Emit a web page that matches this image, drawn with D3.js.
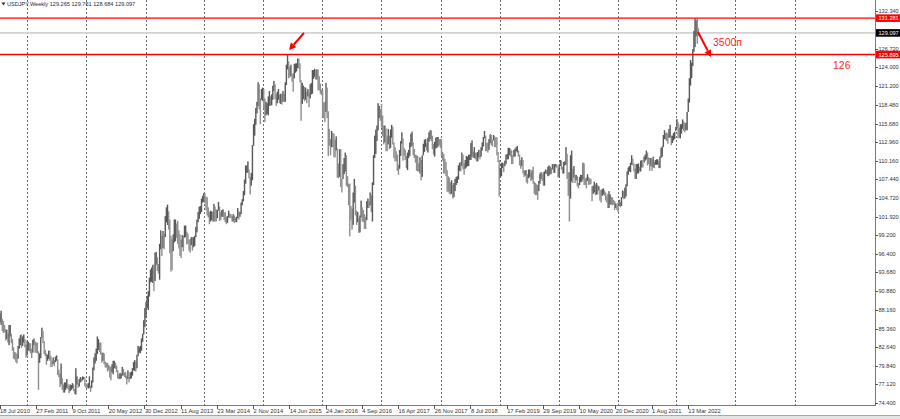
<!DOCTYPE html>
<html><head><meta charset="utf-8">
<script src="https://cdn.jsdelivr.net/npm/d3@7"></script>
<style>
html,body{margin:0;padding:0;background:#fff;overflow:hidden;}
svg{display:block;}
text{font-family:"Liberation Sans",Arial,sans-serif;}
</style></head><body>
<svg id="c" width="900" height="419"></svg>
<script>
// ---------- DATA ----------
const symbolTitle = "USDJPY,Weekly";
const lastBarOHLC = [129.265, 129.761, 128.684, 129.097];
const firstWeek = "2010-07-18";

// weekly lows, one line per calendar year of the bar start date
const weekLows = [
86.3,85.9,85.0,84.7,84.8,83.6,83.8,83.3,82.9,84.2,83.2,82.1,80.9,80.8,80.4,80.2,80.9,82.4,82.9,82.5,82.8,83.3,82.6,81.1,
81.4,82.1,82.0,81.7,81.0,81.8,82.9,81.8,81.8,81.7,76.3,80.3,81.0,84.0,83.2,81.6,81.3,80.0,80.6,80.9,80.6,79.7,79.7,80.1,79.8,80.4,80.6,78.5,78.2,76.7,77.1,76.3,75.9,75.9,76.3,76.6,76.4,75.8,76.1,76.3,76.5,76.1,75.7,75.6,77.1,76.6,76.8,77.4,77.5,77.7,77.9,76.8,
76.6,76.6,76.5,76.6,76.0,76.6,77.4,79.2,80.2,80.6,81.6,82.2,81.9,81.5,80.3,80.6,80.1,79.6,79.6,79.0,79.2,78.1,77.7,78.9,78.6,79.5,79.4,78.9,78.0,77.9,77.9,78.0,78.4,78.4,78.2,78.0,77.1,77.9,77.4,77.9,78.0,78.4,79.2,79.1,79.0,79.5,81.3,81.8,81.7,82.1,83.4,84.5,
85.6,87.0,88.4,88.1,90.1,92.2,92.3,92.1,90.9,92.4,94.8,93.9,93.5,92.6,97.1,96.1,97.3,97.1,98.9,101.1,100.7,100.0,96.5,93.8,94.0,96.8,98.1,98.3,98.8,97.9,97.2,96.1,95.8,97.4,96.8,98.8,98.9,97.8,97.9,96.9,96.6,97.7,96.9,97.4,97.6,98.9,99.6,101.1,101.6,102.3,102.6,104.0,104.1,
103.9,102.9,102.1,101.8,100.8,101.2,101.4,101.2,101.2,101.2,101.2,101.7,102.8,101.3,101.4,101.9,101.9,101.4,101.1,100.8,101.0,101.8,101.7,101.7,101.2,101.2,101.0,101.1,101.1,101.7,101.5,101.9,102.3,103.6,104.2,105.1,106.8,108.4,108.4,107.6,105.2,106.5,107.3,112.4,113.9,115.5,117.2,118.3,117.8,115.6,119.2,119.0,
117.9,115.9,116.9,117.1,116.9,118.3,118.3,118.4,119.2,120.5,119.3,118.3,118.7,119.2,118.7,118.6,118.5,118.9,118.9,118.9,121.4,123.7,122.4,122.5,122.7,121.9,120.4,122.4,123.2,123.4,123.9,123.8,121.8,116.1,118.6,119.3,119.0,119.2,118.7,119.7,118.1,119.4,120.0,120.1,122.3,122.6,122.2,122.2,120.6,120.6,120.1,119.9,
116.7,116.5,115.9,117.4,116.5,110.9,112.4,111.0,112.2,112.2,110.7,110.7,111.7,107.7,107.6,107.8,106.3,105.5,107.5,108.2,108.6,106.5,106.3,103.6,99.0,101.4,100.0,100.7,104.0,102.1,100.7,101.1,99.5,99.6,101.8,101.2,101.1,100.1,100.1,101.4,103.2,103.2,103.6,102.6,101.2,106.6,110.6,111.2,113.1,114.7,116.5,116.1,
115.1,113.8,112.6,112.9,111.6,111.6,112.6,111.9,112.1,113.6,112.6,110.6,110.1,110.1,108.7,108.1,109.0,110.9,112.7,110.2,110.9,110.3,109.1,108.8,110.6,110.9,112.2,112.4,111.0,110.6,109.9,108.7,108.6,108.6,108.3,107.3,107.8,111.0,111.5,112.2,111.7,111.4,113.0,113.4,113.1,111.9,111.1,110.8,112.0,112.1,112.3,112.5,
112.1,110.9,110.2,108.3,108.3,107.9,105.6,105.6,105.3,105.2,105.3,104.6,104.8,105.7,106.6,106.9,107.4,108.7,108.6,109.4,108.9,108.1,109.0,109.2,109.4,109.4,110.3,110.3,110.8,110.6,110.6,110.4,110.1,110.1,110.7,110.4,110.8,111.7,112.3,113.5,111.6,111.6,111.4,111.8,112.8,112.5,112.3,113.2,112.2,112.2,111.0,110.0,104.9,
107.8,107.9,109.1,108.5,109.4,109.7,110.4,110.4,111.0,110.8,109.7,109.7,110.8,110.8,111.6,111.4,110.8,109.5,109.0,109.4,108.3,107.8,108.0,107.0,106.8,107.6,107.8,107.2,107.4,106.8,105.3,105.1,105.1,104.4,105.7,106.8,107.5,107.2,106.5,106.5,108.3,108.2,107.9,108.0,108.2,108.2,108.9,108.4,108.4,109.3,109.1,107.7,
107.8,109.4,108.9,108.3,108.3,109.5,109.6,107.5,105.0,101.2,104.6,107.1,106.9,107.7,106.9,107.3,106.4,106.1,106.6,107.0,107.1,107.4,106.6,106.6,106.1,107.2,106.6,106.7,106.7,104.2,105.3,105.5,105.1,105.2,105.2,105.8,104.3,104.0,105.0,105.2,105.0,104.3,104.0,103.2,103.2,103.7,103.7,103.6,103.7,102.9,103.2,102.9,
102.6,103.5,103.3,103.5,104.7,104.5,104.6,104.9,106.4,108.1,108.6,108.5,109.6,109.5,108.6,107.5,107.5,108.3,108.3,108.6,108.6,109.2,109.2,109.9,110.2,110.4,109.5,109.7,108.7,109.4,108.7,109.2,109.1,109.6,109.6,109.6,109.1,109.1,110.6,110.8,112.2,113.4,113.3,113.1,112.7,113.6,113.6,112.5,112.8,113.2,113.4,114.6,
115.0,113.5,113.6,113.5,114.2,114.9,114.6,114.4,114.7,114.7,117.4,118.8,121.3,122.4,124.2,126.3,127.0,128.6,127.5,128.684
];

// weekly highs, same order
const weekHighs = [
87.6,88.0,86.8,86.5,85.9,85.3,85.2,84.6,85.9,85.9,84.6,83.8,82.6,81.9,81.8,81.6,82.8,83.9,84.4,84.5,84.2,84.5,83.8,83.0,
83.6,83.4,83.2,83.2,82.4,83.7,83.9,83.5,83.3,83.3,82.0,81.7,84.1,85.5,85.0,83.5,82.2,81.7,81.5,82.1,82.1,81.3,80.6,81.1,80.7,81.2,81.4,80.8,79.3,78.7,80.2,78.0,77.1,77.4,77.4,77.9,77.2,76.9,77.1,77.0,77.3,77.1,76.4,79.5,78.3,77.3,77.9,78.2,78.0,78.3,78.2,78.1,
77.3,77.1,77.3,78.3,76.9,77.7,79.6,81.1,81.7,82.4,84.2,83.8,83.3,83.3,81.8,81.8,81.7,80.5,80.3,80.3,80.0,79.8,79.7,80.1,80.6,80.6,80.3,79.9,79.2,78.6,78.8,78.7,79.7,79.4,78.9,78.9,78.4,79.2,78.2,78.9,79.0,79.5,80.4,80.7,80.5,81.5,82.8,82.6,82.8,83.9,84.6,86.6,
88.4,89.3,90.2,90.9,92.9,94.1,94.4,94.8,94.8,96.6,96.7,95.9,94.9,97.9,99.9,99.1,99.8,99.4,102.0,103.3,103.7,102.7,101.5,99.1,98.6,99.3,101.5,101.5,100.9,101.3,99.9,99.3,98.5,99.2,99.1,100.6,100.6,99.7,99.4,98.5,98.6,98.9,98.9,98.9,99.1,100.4,101.5,102.6,103.4,103.5,104.6,105.0,105.4,
105.4,104.9,104.8,103.3,102.6,102.8,102.7,102.6,103.8,103.4,103.0,102.9,104.1,103.4,102.6,102.9,103.0,102.5,102.6,101.9,102.0,102.8,102.4,102.3,102.0,102.3,102.1,101.8,101.9,103.2,102.7,102.6,104.0,104.5,105.7,107.4,109.5,109.5,110.1,108.9,107.8,108.4,112.5,115.6,116.4,118.0,118.9,121.8,121.5,119.4,120.8,121.0,
120.8,119.4,118.9,118.7,119.7,120.5,119.7,120.0,121.3,122.0,121.5,120.1,120.4,120.8,120.0,120.1,120.1,120.5,120.1,121.8,124.4,125.9,124.9,124.1,124.4,123.1,123.1,124.5,124.6,124.6,125.3,125.3,124.6,122.1,121.7,121.3,121.1,121.0,120.4,120.8,120.3,121.5,121.7,123.6,123.6,123.8,123.6,123.7,123.7,122.7,121.6,120.7,
120.7,118.8,118.9,121.7,121.0,117.5,114.9,113.4,114.6,114.3,114.2,113.3,113.8,112.0,109.8,111.9,111.9,107.5,109.7,110.6,111.4,111.0,107.9,106.8,106.8,103.5,103.1,105.5,107.5,106.5,102.8,102.6,101.7,102.1,104.3,103.3,102.9,102.3,101.9,104.2,104.6,104.2,105.5,105.1,107.0,111.0,113.9,114.8,115.4,118.7,118.3,117.8,
118.6,116.9,115.4,115.4,115.0,113.9,114.9,113.9,114.8,115.5,115.2,112.9,112.2,111.6,111.1,109.6,111.8,113.1,114.4,113.5,112.1,111.8,110.9,111.4,111.8,112.9,114.2,114.5,112.9,111.9,111.1,111.0,110.9,109.8,110.7,110.3,111.0,112.7,113.3,113.4,112.8,113.6,114.4,114.7,114.7,113.9,112.7,113.0,113.6,113.7,113.7,113.4,
113.4,113.4,111.5,111.2,110.5,110.0,108.8,107.9,107.7,107.0,107.3,106.6,106.9,107.5,107.8,107.9,109.5,109.9,110.0,111.4,111.1,109.8,110.3,110.9,110.8,111.1,111.1,112.8,113.2,111.5,112.2,111.4,111.4,111.5,111.8,111.8,112.2,112.9,113.7,114.6,113.9,112.8,112.9,113.4,114.1,114.0,113.3,114.0,113.8,113.6,113.7,111.5,110.3,
109.1,109.9,109.9,109.8,110.2,111.1,111.2,112.1,112.1,111.9,111.7,111.0,111.8,112.0,112.2,112.4,111.7,111.1,110.3,110.7,110.3,108.7,108.8,108.8,108.2,108.9,108.9,108.4,108.8,109.3,107.1,106.9,106.7,106.6,107.2,108.3,108.5,108.2,108.5,108.6,108.9,108.8,109.3,109.5,109.3,109.1,109.7,109.7,109.7,109.7,109.6,109.1,
109.6,110.3,110.2,109.3,110.0,110.1,112.2,111.2,108.5,108.5,111.0,111.7,109.0,109.4,108.1,108.1,107.9,106.9,107.8,108.1,108.1,109.9,109.8,107.6,107.7,108.2,107.8,107.6,107.5,106.4,106.5,107.1,106.7,106.9,106.6,106.4,105.9,105.8,106.0,106.1,105.8,105.5,105.0,105.3,105.7,105.2,104.8,104.8,104.4,104.2,103.9,103.7,
104.0,104.4,104.1,104.8,105.8,105.7,106.2,106.7,108.6,109.2,109.4,109.9,111.0,110.5,109.8,109.0,109.7,109.7,109.8,109.3,110.2,110.3,109.8,110.8,111.1,111.7,111.4,110.7,110.6,110.6,110.4,110.8,110.0,110.3,110.4,110.4,110.1,110.8,112.1,112.3,114.0,114.7,114.3,114.4,114.2,114.9,115.5,113.9,113.9,114.3,114.5,115.2,
116.35,115.9,115.1,115.6,115.6,116.3,116.0,115.8,115.8,117.4,119.4,122.4,125.1,124.7,126.7,129.4,131.25,131.0,131.28,129.761
];

const priceTicks = [132.340,126.720,124.000,121.200,118.480,115.680,112.960,110.160,107.440,104.720,101.920,99.200,96.400,93.680,90.880,88.160,85.360,82.640,79.840,77.120,74.400];
const dateLabels = ["18 Jul 2010","27 Feb 2011","9 Oct 2011","20 May 2012","30 Dec 2012","11 Aug 2013","23 Mar 2014","2 Nov 2014","14 Jun 2015","24 Jan 2016","4 Sep 2016","16 Apr 2017","26 Nov 2017","8 Jul 2018","17 Feb 2019","29 Sep 2019","10 May 2020","20 Dec 2020","1 Aug 2021","13 Mar 2022"];
const labelEveryBars = 32;
const levelLines = [131.281, 125.895];
const currentPrice = 129.097;
const noteLevel = "126";
const notePips = "3500п";

// ---------- LAYOUT ----------
const plotRight = 875, plotBottom = 405;
const barStep = 1.132;
const nBars = weekLows.length;
const svg = d3.select("#c");

const x = d3.scaleLinear().domain([0, nBars - 1]).range([-0.5, -0.5 + (nBars - 1) * barStep]);
const y = d3.scaleLinear().domain([74.4, 132.34]).range([402.7, 11]);

svg.append("rect").attr("width", 900).attr("height", 419).attr("fill", "#fff");

svg.append("defs").append("clipPath").attr("id", "pc")
  .append("rect").attr("x", 0).attr("y", 0).attr("width", plotRight).attr("height", plotBottom);

const plot = svg.append("g").attr("clip-path", "url(#pc)");

// yearly period separators (first bar of each calendar year)
const start = d3.timeParse("%Y-%m-%d")(firstWeek);
const seps = [];
for (let i = 1; i < 720; i++) {
  const d = d3.timeDay.offset(start, 7 * i), p = d3.timeDay.offset(start, 7 * (i - 1));
  if (d.getFullYear() !== p.getFullYear()) seps.push(i);
}
plot.selectAll("line.sep").data(seps.filter(i => x(i) < plotRight)).join("line")
  .attr("class", "sep")
  .attr("x1", i => Math.round(x(i)) + 0.5).attr("x2", i => Math.round(x(i)) + 0.5)
  .attr("y1", 0).attr("y2", plotBottom)
  .attr("stroke", "#6a6a6a").attr("stroke-width", 1).attr("stroke-dasharray", "2,2");

// current price line
plot.append("line").attr("x1", 0).attr("x2", plotRight)
  .attr("y1", y(currentPrice)).attr("y2", y(currentPrice))
  .attr("stroke", "#d2d2d2").attr("stroke-width", 1.6);

// bars
const bars = weekLows.map((l, i) => ({ i, l, h: weekHighs[i] }));
plot.selectAll("rect.bar").data(bars).join("rect")
  .attr("class", "bar")
  .attr("x", d => x(d.i) - 0.2)
  .attr("width", 1.4)
  .attr("y", d => y(d.h))
  .attr("height", d => Math.max(1, y(d.l) - y(d.h)))
  .attr("fill", d => {
    if (d.i === nBars - 1) return lastBarOHLC[3] >= lastBarOHLC[0] ? "#585858" : "#8e8e8e";
    if (d.i === 0) return "#585858";
    const m = (d.l + d.h) / 2, pm = (bars[d.i - 1].l + bars[d.i - 1].h) / 2;
    return m >= pm ? "#585858" : "#8e8e8e";
  });

// red level lines
plot.selectAll("line.lvl").data(levelLines).join("line")
  .attr("class", "lvl")
  .attr("x1", 0).attr("x2", plotRight)
  .attr("y1", d => y(d)).attr("y2", d => y(d))
  .attr("stroke", "#ff0000").attr("stroke-width", 1.4);

// arrows
function arrow(g, x1, y1, x2, y2) {
  const ang = Math.atan2(y2 - y1, x2 - x1), L = 7, Wd = 3.6;
  const bx = x2 - L * Math.cos(ang), by = y2 - L * Math.sin(ang);
  g.append("line").attr("x1", x1).attr("y1", y1).attr("x2", bx).attr("y2", by)
    .attr("stroke", "#ff0000").attr("stroke-width", 2);
  g.append("path")
    .attr("d", `M${x2},${y2}L${bx + Wd * Math.sin(ang)},${by - Wd * Math.cos(ang)}L${bx - Wd * Math.sin(ang)},${by + Wd * Math.cos(ang)}Z`)
    .attr("fill", "#ff0000");
}
arrow(svg, 304, 33, 289, 50);
arrow(svg, 698, 32, 711, 57);

svg.append("text").attr("x", 713).attr("y", 45.5).attr("font-size", 10.5).attr("fill", "#ff2a2a").text(notePips);
svg.append("text").attr("x", 833).attr("y", 68.5).attr("font-size", 10.5).attr("fill", "#ff2a2a").text(noteLevel);

// axes frame
svg.append("line").attr("x1", plotRight + 0.5).attr("x2", plotRight + 0.5).attr("y1", 0).attr("y2", plotBottom + 1)
  .attr("stroke", "#7a7a7a");
svg.append("line").attr("x1", 0).attr("x2", plotRight + 1).attr("y1", plotBottom + 0.5).attr("y2", plotBottom + 0.5)
  .attr("stroke", "#7a7a7a");

// price axis
const yAx = svg.append("g");
yAx.selectAll("line").data(priceTicks).join("line")
  .attr("x1", plotRight).attr("x2", plotRight + 3)
  .attr("y1", d => Math.round(y(d)) + 0.5).attr("y2", d => Math.round(y(d)) + 0.5)
  .attr("stroke", "#555");
yAx.selectAll("text").data(priceTicks).join("text")
  .attr("x", 878.5).attr("y", d => y(d) + 2)
  .attr("font-size", 5.6).attr("fill", "#333")
  .text(d => d3.format(".3f")(d));

// price tags
function tag(v, bg) {
  const yy = y(v);
  svg.append("rect").attr("x", 876).attr("y", yy - 3.8).attr("width", 24).attr("height", 7.6).attr("fill", bg);
  svg.append("text").attr("x", 878.5).attr("y", yy + 2).attr("font-size", 5.6).attr("fill", "#fff")
    .text(d3.format(".3f")(v));
}
levelLines.forEach(v => tag(v, "#ff0000"));
tag(currentPrice, "#000");

// date axis
const dateIdx = dateLabels.map((s, k) => k * labelEveryBars);
const xAx = svg.append("g");
xAx.selectAll("line").data(dateIdx).join("line")
  .attr("x1", i => Math.round(x(i)) + 0.5).attr("x2", i => Math.round(x(i)) + 0.5)
  .attr("y1", plotBottom).attr("y2", plotBottom + 4)
  .attr("stroke", "#555");
xAx.selectAll("text").data(dateLabels).join("text")
  .attr("x", (s, k) => x(k * labelEveryBars) + 0.5)
  .attr("y", 412.5)
  .attr("font-size", 5.8).attr("fill", "#333")
  .text(s => s);

// bottom strip
svg.append("rect").attr("x", 0).attr("y", 415).attr("width", 900).attr("height", 4).attr("fill", "#e4e4e4");
svg.append("line").attr("x1", 0).attr("x2", 900).attr("y1", 415.5).attr("y2", 415.5).attr("stroke", "#a8a8a8");

// header
svg.append("path").attr("d", "M1.5,2.5L5.5,2.5L3.5,5.5Z").attr("fill", "#333");
svg.append("text").attr("x", 7).attr("y", 6.3).attr("font-size", 5.6).attr("fill", "#2a2a3a")
  .text(symbolTitle + "  " + lastBarOHLC.map(v => d3.format(".3f")(v)).join(" "));
</script>
</body></html>
